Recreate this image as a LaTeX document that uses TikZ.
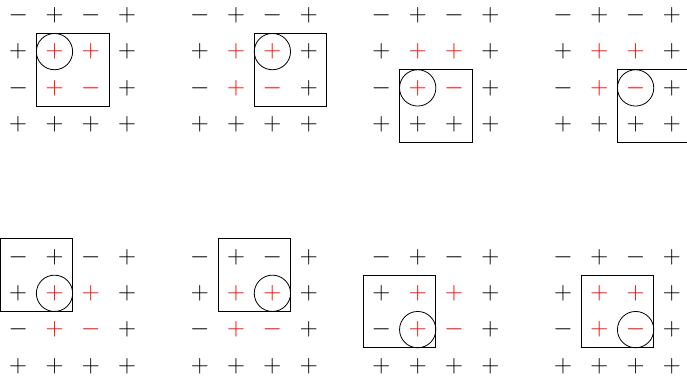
\documentclass[tikz,border=0pt]{standalone}
\begin{document}
\def\S{36.3}
\def\H{18.15}
\newcommand\signpanel[9]{%
  % #1 name, #2 x0, #3 y0, #4 box row, #5 box col, #6 box row2, #7 box col2, #8 ring row, #9 ring col
  \foreach \r in {0,...,3}{%
    \foreach \c in {0,...,3}{%
      \pgfmathtruncatemacro\isminus{and(iseven(\r),iseven(\c))}%
      \pgfmathtruncatemacro\ishot{and(and(\r>0,\r<3),and(\c>0,\c<3))}%
      \ifnum\isminus=1 \def\sgntext{$-$}\else\def\sgntext{$+$}\fi
      \ifnum\ishot=1 \def\sgncol{red}\else\def\sgncol{black}\fi
      \node[sgn, text=\sgncol] (#1-\r-\c) at (#2+\c*\S, #3+\r*\S) {\sgntext};
    }%
  }%
  \node[ring] (#1-ring) at (#1-#8-#9.center) {};
  \draw[frame] ([shift={(-\H,-\H)}]#1-#4-#5.center) rectangle ([shift={(\H,\H)}]#1-#6-#7.center);
}
\begin{tikzpicture}[x=1pt,y=-1pt,
  sgn/.style={inner sep=0pt, font=\fontsize{28.5}{30}\selectfont},
  ring/.style={draw, circle, line width=0.8pt, minimum size=36.3pt, inner sep=0pt},
  frame/.style={draw, line width=0.9pt}]
\useasboundingbox (0,0) rectangle (687,375);
\signpanel{pa}{18.2}{15.3}{1}{1}{2}{2}{1}{1}
\signpanel{pb}{199.8}{15.3}{1}{2}{2}{3}{1}{2}
\signpanel{pc}{381.4}{15.3}{2}{1}{3}{2}{2}{1}
\signpanel{pd}{563.0}{15.3}{2}{2}{3}{3}{2}{2}
\signpanel{pe}{18.2}{257}{0}{0}{1}{1}{1}{1}
\signpanel{pf}{199.8}{257}{0}{1}{1}{2}{1}{2}
\signpanel{pg}{381.4}{257}{1}{0}{2}{1}{2}{1}
\signpanel{ph}{563.0}{257}{1}{1}{2}{2}{2}{2}
\end{tikzpicture}
\end{document}
